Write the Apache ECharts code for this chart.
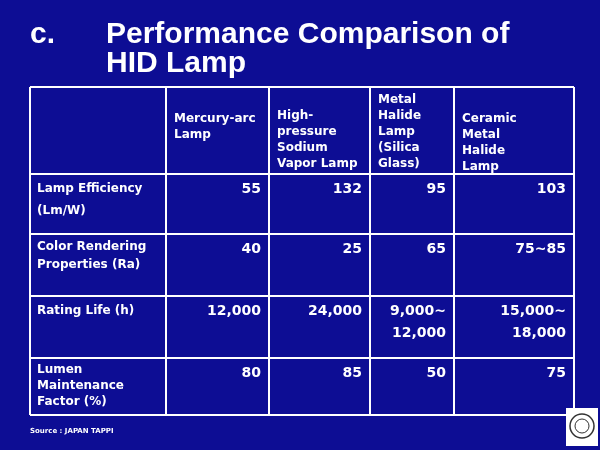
<!DOCTYPE html>
<html><head><meta charset="utf-8">
<script src="https://cdn.jsdelivr.net/npm/echarts@6/dist/echarts.min.js"></script>
<style>html,body{margin:0;padding:0;background:#0d0d94}#main{width:600px;height:450px}</style>
</head><body><div id="main"></div>
<script>
// table content
var headers = ['', 'Mercury-arc\nLamp', 'High-\npressure\nSodium\nVapor Lamp', 'Metal\nHalide\nLamp\n(Silica\nGlass)', 'Ceramic\nMetal\nHalide\nLamp'];
var rowLabels = ['Lamp Efficiency\n(Lm/W)', 'Color Rendering\nProperties (Ra)', 'Rating Life (h)', 'Lumen\nMaintenance\nFactor (%)'];
var efficiency = ['55', '132', '95', '103'];
var colorRendering = ['40', '25', '65', '75~85'];
var ratingLife = ['12,000', '24,000', '9,000~\n12,000', '15,000~\n18,000'];
var lumenMaintenance = ['80', '85', '50', '75'];
var rows = [efficiency, colorRendering, ratingLife, lumenMaintenance];

var colX = [30, 166, 269, 370, 454, 574];
var rowY = [87, 174, 234, 296, 358, 415];
var headerTop = [0, 111, 108, 92, 111];
var rowLineH = [22, 18, 22, 16];
var font = 'Verdana, "DejaVu Sans", sans-serif';

var chart = echarts.init(document.getElementById('main'));
var g = [];
var shadow = {textShadowColor: '#000', textShadowBlur: 0, textShadowOffsetX: 2, textShadowOffsetY: 2};
var small = Object.assign({}, shadow, {textShadowOffsetX: 1, textShadowOffsetY: 1});

// title
g.push({type: 'text', left: 30, top: 20, style: Object.assign({text: 'c.', fill: '#fff', font: 'bold 30px "Liberation Sans", Arial, sans-serif'}, shadow)});
g.push({type: 'text', left: 106, top: 20, style: Object.assign({text: 'Performance Comparison of\nHID Lamp', fill: '#fff', font: 'bold 30px "Liberation Sans", Arial, sans-serif', lineHeight: 29}, shadow)});

// grid lines
for (var i = 0; i < colX.length; i++) {
    g.push({type: 'line', shape: {x1: colX[i], y1: rowY[0], x2: colX[i], y2: rowY[rowY.length - 1]}, style: {stroke: '#fff', lineWidth: 2}});
}
for (var j = 0; j < rowY.length; j++) {
    g.push({type: 'line', shape: {x1: colX[0], y1: rowY[j], x2: colX[colX.length - 1], y2: rowY[j]}, style: {stroke: '#fff', lineWidth: 2}});
}

// header cells
for (var c = 1; c < headers.length; c++) {
    g.push({type: 'text', x: colX[c] + 8, y: headerTop[c], style: Object.assign({text: headers[c], fill: '#fff', font: 'bold 12px ' + font, lineHeight: 16}, small)});
}

// body rows
rows.forEach(function (vals, r) {
    var top = rowY[r + 1] + 4;
    g.push({type: 'text', x: colX[0] + 7, y: top, style: Object.assign({text: rowLabels[r], fill: '#fff', font: 'bold 12px ' + font, lineHeight: rowLineH[r]}, small)});
    vals.forEach(function (v, k) {
        g.push({type: 'text', x: colX[k + 2] - 8, y: top, style: Object.assign({text: v, fill: '#fff', font: 'bold 14px ' + font, align: 'right', lineHeight: 22}, small)});
    });
});

// source note
g.push({type: 'text', x: 30, y: 428, style: {text: 'Source : JAPAN TAPPI', fill: '#fff', font: 'bold 7px ' + font}});

// logo
g.push({type: 'rect', shape: {x: 566, y: 408, width: 32, height: 38}, style: {fill: '#fff'}});
g.push({type: 'circle', shape: {cx: 582, cy: 426, r: 12}, style: {fill: 'none', stroke: '#333', lineWidth: 1.5}});
g.push({type: 'circle', shape: {cx: 582, cy: 426, r: 7}, style: {fill: 'none', stroke: '#333', lineWidth: 1}});

chart.setOption({backgroundColor: '#0d0d94', graphic: g});
</script></body></html>
